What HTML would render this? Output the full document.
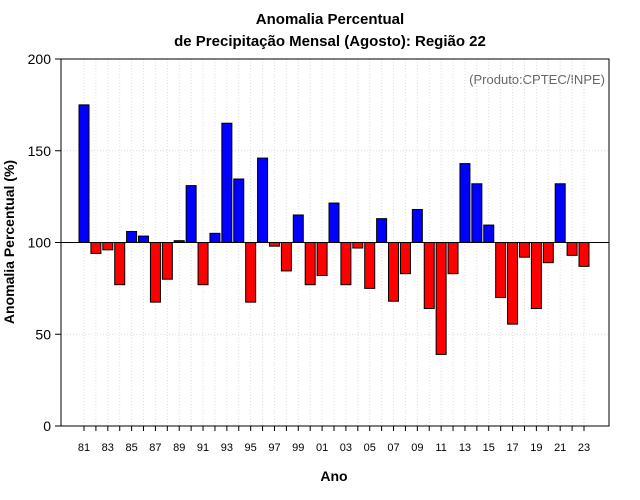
<!DOCTYPE html>
<html><head><meta charset="utf-8"><style>body{margin:0;background:#fff}svg{display:block;font-family:"Liberation Sans",sans-serif}</style></head>
<body>
<svg id="c" width="640" height="500">
<rect width="640" height="500" fill="#fff"/>
<text x="330" y="24" text-anchor="middle" font-size="15" font-weight="bold">Anomalia Percentual</text>
<text x="330" y="46" text-anchor="middle" font-size="15" font-weight="bold">de Precipitação Mensal (Agosto): Região 22</text>
<text x="605" y="84" text-anchor="end" font-size="13" fill="#666">(Produto:CPTEC/INPE)</text>
<text x="334" y="481" text-anchor="middle" font-size="14" font-weight="bold">Ano</text>
<text transform="translate(14,242) rotate(-90)" text-anchor="middle" font-size="14" font-weight="bold">Anomalia Percentual (%)</text>
<g id="grid"></g><g id="bars"></g><g id="axes"></g>
</svg>
<script>
const years=[1981,1982,1983,1984,1985,1986,1987,1988,1989,1990,1991,1992,1993,1994,1995,1996,1997,1998,1999,2000,2001,2002,2003,2004,2005,2006,2007,2008,2009,2010,2011,2012,2013,2014,2015,2016,2017,2018,2019,2020,2021,2022,2023];
const values=[175,94,96,77,106,103.5,67.5,80,101,131,77,105,165,134.6,67.5,146,98,84.5,115,77,82,121.5,77,97,75,113,68,83,118,64,39,83,143,132,109.5,70,55.5,92,64,89,132,93,87];
const yTicks=[0,50,100,150,200];
const NS="http://www.w3.org/2000/svg";
const L=61,R=609,T=59,B=426;
const y=v=>B-(v/200)*(B-T);
const x=yr=>84+(yr-1981)*(500/42);
function mk(tag,attrs,parent){const e=document.createElementNS(NS,tag);for(const k in attrs)e.setAttribute(k,attrs[k]);parent.appendChild(e);return e;}
const g=document.getElementById('grid'),b=document.getElementById('bars'),a=document.getElementById('axes');
years.forEach(yr=>{const l=mk('line',{x1:x(yr),x2:x(yr),y1:T,y2:B,stroke:'#ddd','stroke-dasharray':'1,2'},g);

});
yTicks.forEach(v=>{const l=mk('line',{x1:L,x2:R,y1:y(v),y2:y(v),stroke:'#ddd','stroke-dasharray':'1,2'},g);


const t=mk('line',{x1:L-6,x2:L,y1:y(v),y2:y(v),stroke:'#000'},a);


const tx=mk('text',{x:L-10,y:y(v)+5,'text-anchor':'end','font-size':14},a);tx.textContent=v;

});
years.forEach((yr,i)=>{const v=values[i];const top=Math.min(y(v),y(100)),h=Math.abs(y(v)-y(100));
const r=mk('rect',{x:x(yr)-5,y:top,width:10,height:h,fill:v>=100?'#0000ff':'#ff0000',stroke:'#000','stroke-width':1},b);


const t=mk('line',{x1:x(yr),x2:x(yr),y1:B,y2:B+5,stroke:'#000'},a);


if(i%2===0){const tx=mk('text',{x:x(yr),y:B+25,'text-anchor':'middle','font-size':11},a);tx.textContent=String(yr%100).padStart(2,'0');

}});
const ref=mk('line',{x1:L,x2:R,y1:y(100),y2:y(100),stroke:'#000'},a);


const fr=mk('rect',{x:L,y:T,width:R-L,height:B-T,fill:'none',stroke:'#000'},a);


</script>
</body></html>
